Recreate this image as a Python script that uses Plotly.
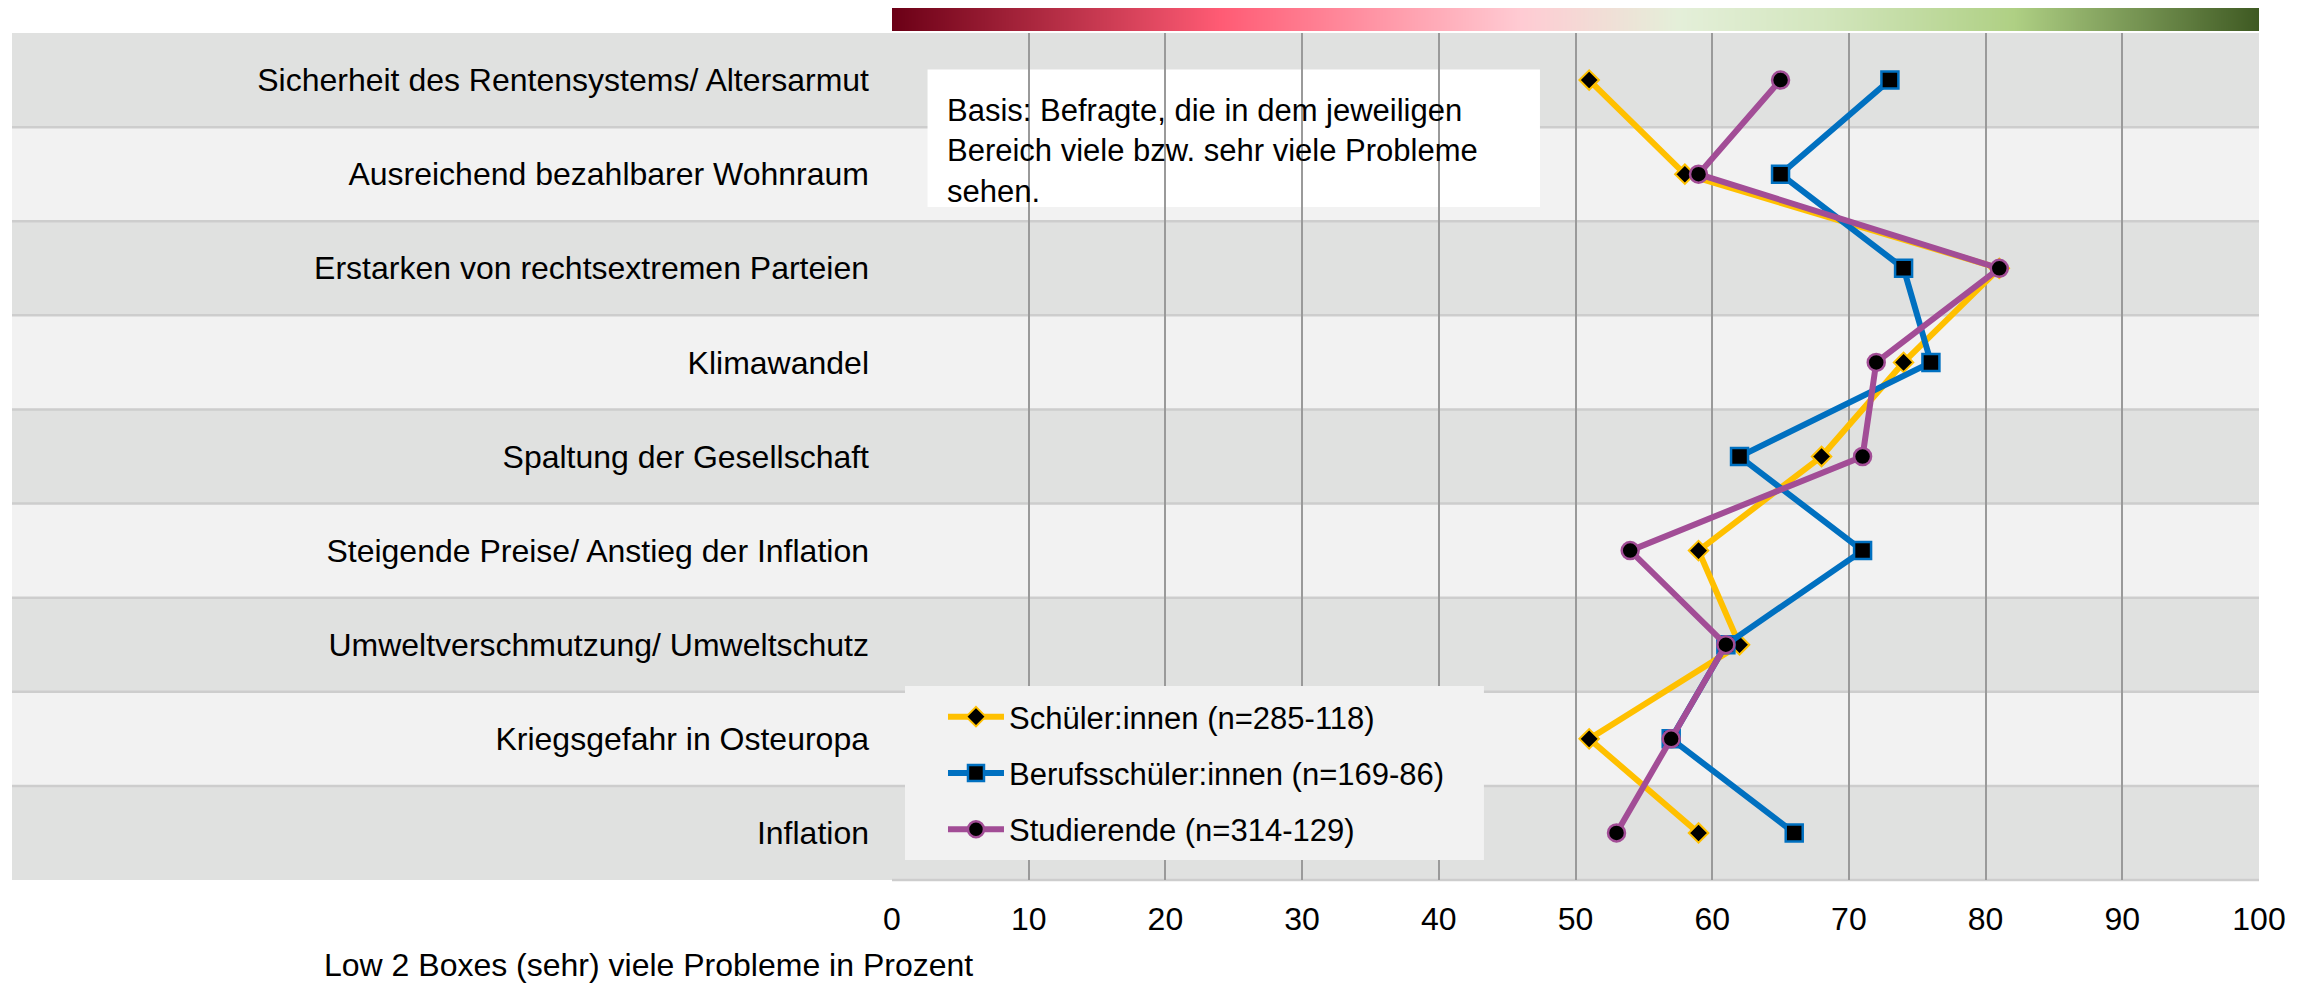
import plotly.graph_objects as go

# Problembereiche (von oben nach unten)
categories = [
    "Sicherheit des Rentensystems/ Altersarmut",
    "Ausreichend bezahlbarer Wohnraum",
    "Erstarken von rechtsextremen Parteien",
    "Klimawandel",
    "Spaltung der Gesellschaft",
    "Steigende Preise/ Anstieg der Inflation",
    "Umweltverschmutzung/ Umweltschutz",
    "Kriegsgefahr in Osteuropa",
    "Inflation",
]

schueler = [51, 58, 81, 74, 68, 59, 62, 51, 59]
berufsschueler = [73, 65, 74, 76, 62, 71, 61, 57, 66]
studierende = [65, 59, 81, 72, 71, 54, 61, 57, 53]

series_names = [
    "Schüler:innen (n=285-118)",
    "Berufsschüler:innen (n=169-86)",
    "Studierende (n=314-129)",
]

x_ticks = [0, 10, 20, 30, 40, 50, 60, 70, 80, 90, 100]

# Farbverlauf oben (Skala von "viele Probleme" bis "keine Probleme")
gradient_values = list(range(0, 101))
gradient_scale = [
    [0.0, "#6b0016"],
    [0.24, "#ff5b74"],
    [0.46, "#ffcbd3"],
    [0.575, "#e4efd9"],
    [0.68, "#d3e6be"],
    [0.82, "#afd084"],
    [1.0, "#3e5922"],
]

FONT = "Liberation Sans, Arial, sans-serif"
W, H = 2318, 983
M_L, M_R, M_T, M_B = 884, 67, 0, 111
PLOT_W = W - M_L - M_R
PLOT_TOP = 0.9713      # oberes Ende der Zeilen (paper)
GRAD_BOTTOM = 0.9736   # unteres Ende des Farbverlaufs (paper)

fig = go.Figure()

fig.add_trace(go.Heatmap(
    x=gradient_values, y=[0], z=[gradient_values],
    colorscale=gradient_scale, showscale=False, zsmooth="best",
    hoverinfo="skip", xaxis="x", yaxis="y2",
))

styles = [
    dict(color="#ffc000", symbol="diamond", size=15, lw=2),
    dict(color="#0070c0", symbol="square", size=17, lw=2.5),
    dict(color="#a24d96", symbol="circle", size=17, lw=2.5),
]

for name, values, st in zip(series_names, [schueler, berufsschueler, studierende], styles):
    fig.add_trace(go.Scatter(
        x=values, y=categories, mode="lines+markers", name=name,
        legendgroup=name,
        line=dict(color=st["color"], width=6),
        marker=dict(symbol=st["symbol"], size=st["size"], color="black",
                    line=dict(color=st["color"], width=st["lw"])),
    ))

# Zeilenbänder über die ganze Breite inkl. Beschriftung
n = len(categories)
row_h = PLOT_TOP / n
band_x0 = (4 - M_L) / PLOT_W
shapes = []
for i in range(n):
    y1 = PLOT_TOP - i * row_h
    y0 = y1 - row_h
    shapes.append(dict(
        type="rect", xref="paper", yref="paper", x0=band_x0, x1=1, y0=y0, y1=y1,
        fillcolor="#e0e1e0" if i % 2 == 0 else "#f2f2f2", line_width=0, layer="below",
    ))
for i in range(1, n + 1):
    y = PLOT_TOP - i * row_h
    shapes.append(dict(
        type="line", xref="paper", yref="paper", x0=band_x0 if i < n else 0, x1=1, y0=y, y1=y,
        line=dict(color="#cdcdcd", width=2.5), layer="below",
    ))

# weißer Kasten für den Basis-Hinweis
shapes.append(dict(
    type="rect", xref="x", yref="y", x0=2.6, x1=47.4, y0=-0.112, y1=1.349,
    fillcolor="white", line_width=0, layer="below",
))
# Legendenkasten
shapes.append(dict(
    type="rect", xref="paper", yref="paper", x0=0.0095, x1=0.433, y0=0.0229, y1=0.2225,
    fillcolor="#f2f2f2", line_width=0, layer="above",
))

fig.update_layout(
    width=W, height=H,
    margin=dict(l=M_L, r=M_R, t=M_T, b=M_B),
    paper_bgcolor="white",
    plot_bgcolor="rgba(0,0,0,0)",
    font=dict(family=FONT, size=31, color="black"),
    shapes=shapes,
    showlegend=True,
    legend=dict(
        x=0.0373, y=0.2179, xanchor="left", yanchor="top",
        bgcolor="rgba(0,0,0,0)", font=dict(size=31),
        tracegroupgap=13, itemwidth=56, traceorder="grouped",
    ),
    xaxis=dict(
        range=[0, 100], tickvals=x_ticks, showgrid=True, gridcolor="#9a9a9a",
        gridwidth=2, zeroline=False, showline=False, ticks="",
        ticklabelstandoff=17, tickfont=dict(size=32), fixedrange=True,
    ),
    yaxis=dict(
        type="category", categoryarray=categories, range=[n - 0.5, -0.5],
        domain=[0, PLOT_TOP], showgrid=False, zeroline=False, ticks="",
        ticklabelstandoff=22, tickfont=dict(size=32),
    ),
    yaxis2=dict(
        domain=[GRAD_BOTTOM, 1], anchor="x", showticklabels=False,
        showgrid=False, zeroline=False, range=[-0.5, 0.5],
    ),
    annotations=[
        dict(
            xref="x", yref="y", x=3.9, y=0.116, xanchor="left", yanchor="top",
            text="Basis: Befragte, die in dem jeweiligen<br>Bereich viele bzw. sehr viele Probleme<br>sehen.",
            align="left", showarrow=False, font=dict(size=31),
        ),
        dict(
            xref="paper", yref="paper", x=(314 - M_L) / PLOT_W, y=(872 - 957) / 872,
            xanchor="left", yanchor="middle", showarrow=False,
            text="Low 2 Boxes (sehr) viele Probleme in Prozent", font=dict(size=32),
        ),
    ],
)

fig.write_html("out.html")
